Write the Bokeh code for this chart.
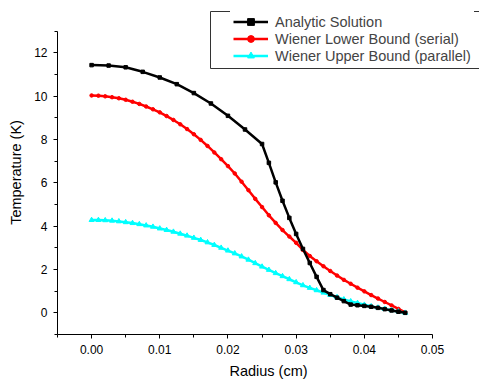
from bokeh.plotting import figure
from bokeh.models import (Legend, LegendItem, BoxAnnotation, FixedTicker, Range1d,
                          NumeralTickFormatter)
from bokeh.embed import file_html
from bokeh.resources import INLINE

# ---- data ----
analytic_r = [0.0, 0.0025, 0.005, 0.0075, 0.01, 0.0125, 0.015, 0.0175, 0.02, 0.0225, 0.025,
              0.026, 0.027, 0.028, 0.029, 0.030, 0.031, 0.032, 0.033, 0.034, 0.035,
              0.036, 0.037, 0.038, 0.039, 0.040, 0.041, 0.042, 0.043, 0.044, 0.045, 0.046]
analytic_t = [11.43, 11.41, 11.33, 11.12, 10.86, 10.55, 10.14, 9.66, 9.09, 8.46, 7.79,
              6.92, 6.02, 5.17, 4.38, 3.64, 2.95, 2.30, 1.66, 1.05, 0.86,
              0.70, 0.54, 0.38, 0.35, 0.32, 0.28, 0.23, 0.17, 0.11, 0.05, 0.00]

wiener_r = [0.000, 0.001, 0.002, 0.003, 0.004, 0.005, 0.006, 0.007, 0.008, 0.009,
            0.010, 0.011, 0.012, 0.013, 0.014, 0.015, 0.016, 0.017, 0.018, 0.019,
            0.020, 0.021, 0.022, 0.023, 0.024, 0.025, 0.026, 0.027, 0.028, 0.029,
            0.030, 0.031, 0.032, 0.033, 0.034, 0.035, 0.036, 0.037, 0.038, 0.039,
            0.040, 0.041, 0.042, 0.043, 0.044, 0.045, 0.046]
lower_t = [10.03, 10.02, 9.99, 9.95, 9.90, 9.83, 9.74, 9.64, 9.52, 9.39,
           9.25, 9.08, 8.90, 8.70, 8.48, 8.24, 7.98, 7.70, 7.40, 7.09,
           6.77, 6.43, 6.05, 5.66, 5.26, 4.88, 4.50, 4.15, 3.82, 3.52,
           3.23, 2.90, 2.62, 2.38, 2.15, 1.93, 1.72, 1.52, 1.34, 1.16,
           0.99, 0.82, 0.66, 0.50, 0.34, 0.18, 0.02]
upper_t = [4.28, 4.28, 4.27, 4.25, 4.22, 4.18, 4.14, 4.09, 4.03, 3.97,
           3.89, 3.82, 3.74, 3.65, 3.56, 3.46, 3.36, 3.25, 3.13, 3.00,
           2.87, 2.74, 2.60, 2.45, 2.29, 2.13, 1.98, 1.83, 1.69, 1.55,
           1.41, 1.27, 1.15, 1.04, 0.93, 0.82, 0.72, 0.62, 0.53, 0.45,
           0.37, 0.30, 0.24, 0.18, 0.12, 0.06, 0.00]

x_ticks = [0.0, 0.01, 0.02, 0.03, 0.04, 0.05]
x_minor = [-0.005, 0.005, 0.015, 0.025, 0.035, 0.045]
y_ticks = [0, 2, 4, 6, 8, 10, 12]
y_minor = [-1, 1, 3, 5, 7, 9, 11, 13]
x_axis_bounds = (-0.005, 0.05)
y_axis_bounds = (-1, 13)

series_labels = ["Analytic Solution", "Wiener Lower Bound (serial)",
                 "Wiener Upper Bound (parallel)"]

FONT = "Liberation Sans"

# frame spans the whole upper-right area (so the legend is not clipped);
# the axes themselves are limited with `bounds`
p = figure(width=479, height=381, output_backend="svg", toolbar_location=None,
           x_range=Range1d(-0.005, 0.05689), y_range=Range1d(-1, 13.95),
           min_border_left=57, min_border_right=0, min_border_top=10, min_border_bottom=46)
p.outline_line_color = None
p.grid.visible = False

# series
rl = p.line(wiener_r, lower_t, line_color="#FF0000", line_width=2.5)
rs = p.scatter(wiener_r, lower_t, marker="circle", size=3.5, color="#FF0000")
cl = p.line(wiener_r, upper_t, line_color="#00FFFF", line_width=2.5)
cs = p.scatter(wiener_r, upper_t, marker="triangle", size=5, color="#00FFFF")
bl = p.line(analytic_r, analytic_t, line_color="#000000", line_width=2.5)
bs = p.scatter(analytic_r, analytic_t, marker="square", size=3.5, color="#000000")

# axes
for ax in (p.xaxis, p.yaxis):
    ax.axis_line_color = "black"
    ax.axis_line_width = 1
    ax.major_tick_line_color = "black"
    ax.minor_tick_line_color = "black"
    ax.major_tick_out = 4
    ax.major_tick_in = 0
    ax.minor_tick_out = 3
    ax.minor_tick_in = 0
    ax.major_label_text_font = FONT
    ax.major_label_text_font_size = "12px"
    ax.major_label_text_color = "black"
    ax.axis_label_text_font = FONT
    ax.axis_label_text_font_size = "14.5px"
    ax.axis_label_text_font_style = "normal"
    ax.axis_label_text_color = "black"

p.xaxis.ticker = FixedTicker(ticks=x_ticks, minor_ticks=x_minor)
p.xaxis.formatter = NumeralTickFormatter(format="0.00")
p.xaxis.bounds = x_axis_bounds
p.xaxis.axis_label = "Radius (cm)"
p.xaxis.major_label_standoff = 6
p.xaxis.axis_label_standoff = 6

p.yaxis.ticker = FixedTicker(ticks=y_ticks, minor_ticks=y_minor)
p.yaxis.bounds = y_axis_bounds
p.yaxis.axis_label = "Temperature (K)"
p.yaxis.major_label_standoff = 6
p.yaxis.axis_label_standoff = 7

legend = Legend(items=[LegendItem(label=series_labels[0], renderers=[bl, bs]),
                       LegendItem(label=series_labels[1], renderers=[rl, rs]),
                       LegendItem(label=series_labels[2], renderers=[cl, cs])],
                location=(173, 267), padding=3, margin=0, spacing=0,
                glyph_width=35, glyph_height=17, label_height=17, label_standoff=7,
                label_text_font=FONT, label_text_font_size="14.5px",
                border_line_alpha=0, background_fill_color="white", background_fill_alpha=1)
p.add_layout(legend)

box = BoxAnnotation(left=210, right=495, top=11, bottom=68,
                    left_units="canvas", right_units="canvas",
                    top_units="canvas", bottom_units="canvas",
                    fill_alpha=0, line_color="#333333", line_width=1, line_alpha=1,
                    level="overlay")
p.add_layout(box)

open("out.html", "w").write(file_html(p, INLINE))
